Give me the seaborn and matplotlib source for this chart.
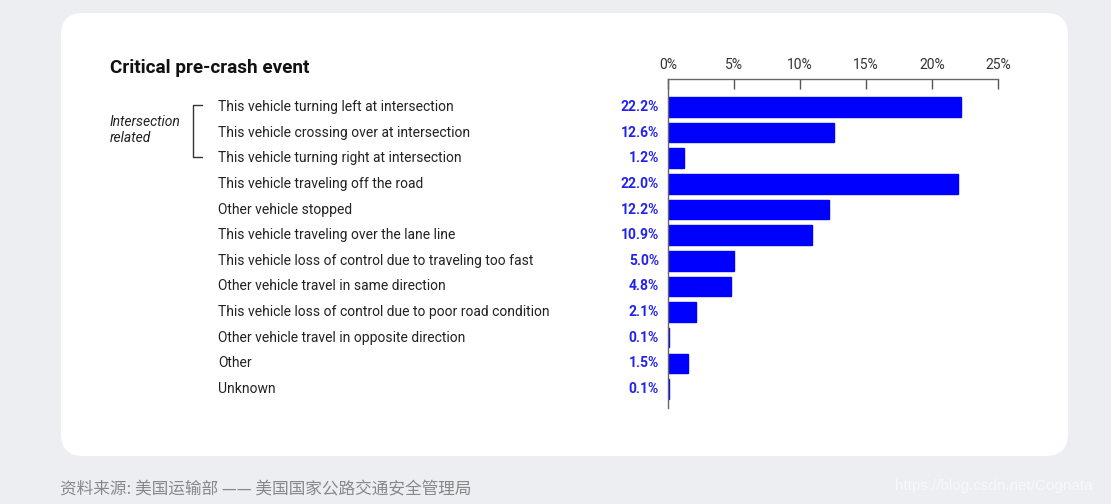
import matplotlib
matplotlib.use("Agg")
import matplotlib.pyplot as plt
import seaborn as sns
import pandas as pd
from matplotlib.patches import FancyBboxPatch
from matplotlib.lines import Line2D
import matplotlib.transforms as mtransforms

categories = [
    "This vehicle turning left at intersection",
    "This vehicle crossing over at intersection",
    "This vehicle turning right at intersection",
    "This vehicle traveling off the road",
    "Other vehicle stopped",
    "This vehicle traveling over the lane line",
    "This vehicle loss of control due to traveling too fast",
    "Other vehicle travel in same direction",
    "This vehicle loss of control due to poor road condition",
    "Other vehicle travel in opposite direction",
    "Other",
    "Unknown",
]
values = [22.2, 12.6, 1.2, 22.0, 12.2, 10.9, 5.0, 4.8, 2.1, 0.1, 1.5, 0.1]
tick_values = [0, 5, 10, 15, 20, 25]
tick_labels = ["0%", "5%", "10%", "15%", "20%", "25%"]
title = "Critical pre-crash event"
group_label = "Intersection\nrelated"
source = "资料来源: 美国运输部 —— 美国国家公路交通安全管理局"
watermark = "https://blog.csdn.net/Cognata"

sns.set_style("white")
plt.rcParams["font.family"] = ["Roboto", "Noto Sans CJK SC", "DejaVu Sans"]

W, H = 1111, 504
fig = plt.figure(figsize=(W / 100, H / 100), dpi=100)
fig.patch.set_facecolor("#EDEEF2")

def fx(px):
    return px / W

def fy(py):
    return 1 - py / H

card = FancyBboxPatch((fx(61), fy(456)), fx(1068) - fx(61), fy(13) - fy(456),
                      boxstyle="round,pad=0,rounding_size=0.02",
                      transform=fig.transFigure, facecolor="white",
                      edgecolor="none", zorder=-10, mutation_aspect=W / H)
fig.patches.append(card)

ax = fig.add_axes([fx(668), fy(408), fx(998) - fx(668), fy(79) - fy(408)])
ax.set_zorder(5)
ax.set_facecolor("none")
df = pd.DataFrame({"category": categories, "value": values})
sns.barplot(data=df, x="value", y="category", orient="h", color="#0000FF",
            saturation=1, width=0.76, edgecolor="#0000FF", linewidth=1, ax=ax)
ax.set_xlim(0, 25)
ax.set_ylim(11.74, -1.09)
ax.set_xlabel("")
ax.set_ylabel("")
ax.xaxis.tick_top()
ax.set_xticks(tick_values)
ax.set_xticklabels(tick_labels, fontsize=10, color="#333333")
ax.tick_params(axis="x", direction="in", length=7, width=1, color="#555555", pad=5, top=True, bottom=False)
ax.set_yticks([])
for s in ["right", "bottom"]:
    ax.spines[s].set_visible(False)
for s in ["top", "left"]:
    ax.spines[s].set_color("#666666")
    ax.spines[s].set_linewidth(1)

trans = mtransforms.blended_transform_factory(fig.transFigure, ax.transData)
for i, (c, v) in enumerate(zip(categories, values)):
    fig.text(fx(218), 0, c, transform=trans, fontsize=10, color="#222222",
             ha="left", va="center").set_y(i)
    fig.text(fx(659), 0, f"{v:.1f}%", transform=trans, fontsize=10,
             fontweight="bold", color="#2222EE", ha="right", va="center").set_y(i)

fig.text(fx(110), fy(68), title, fontsize=13.6, fontweight="semibold",
         color="#111111", ha="left", va="center")
fig.text(fx(110), fy(130), group_label, fontsize=10, fontstyle="italic",
         color="#222222", ha="left", va="center", linespacing=1.15)

bx0, bx1 = fx(193), fx(202)
fig.lines.append(Line2D([bx1, bx0, bx0, bx1], [fy(105), fy(105), fy(157), fy(157)],
                        transform=fig.transFigure, color="#333333", lw=1))

fig.text(fx(60), fy(490), source, fontsize=12, color="#888888",
         ha="left", va="center", family=["Noto Sans CJK SC", "DejaVu Sans"])
fig.text(fx(895), fy(486), watermark, fontsize=11, color="#FFFFFF", alpha=0.6,
         ha="left", va="center", family=["Liberation Sans", "DejaVu Sans"])

fig.savefig("out.png", dpi=100, facecolor=fig.get_facecolor())
